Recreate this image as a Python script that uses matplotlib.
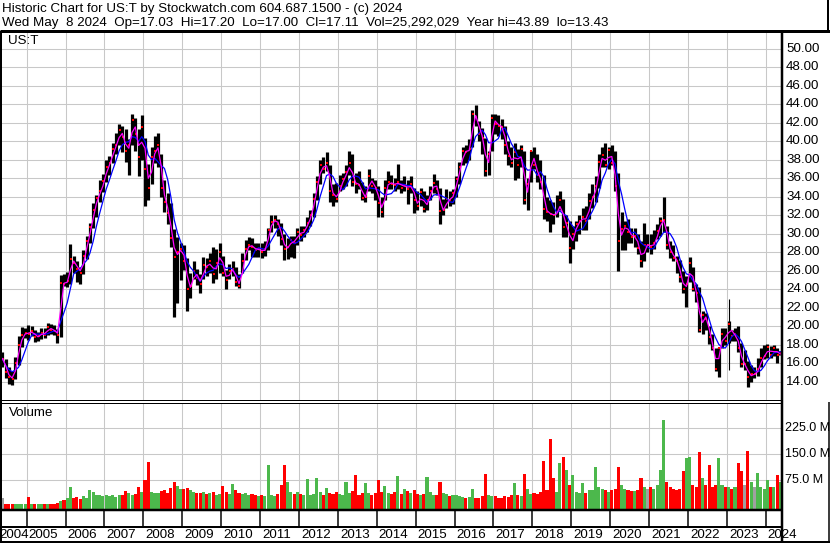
import matplotlib
matplotlib.use("Agg")
import matplotlib.pyplot as plt
from matplotlib.lines import Line2D
import numpy as np
import pandas as pd

# ---------------- data (monthly, May 2004 .. May 2024) ----------------
start_year, start_month = 2004, 5

high = [
    17.2, 16.5, 15.6, 15.2, 16.7, 18.9, 19.9, 19.8,                      # 2004 May-Dec
    20.1, 20.0, 19.6, 19.4, 19.8, 19.8, 20.4, 20.2, 20.1, 19.7, 25.5, 25.6,  # 2005
    25.9, 28.9, 27.6, 27.0, 26.4, 28.2, 29.8, 31.2, 33.3, 34.2, 35.8, 36.5,  # 2006
    38.0, 38.4, 39.8, 40.9, 41.9, 41.6, 41.3, 40.2, 43.0, 42.5, 41.3, 42.8,  # 2007
    40.4, 37.5, 39.4, 40.6, 40.9, 38.6, 35.8, 34.4, 33.3, 30.5, 29.7, 29.0,  # 2008
    28.8, 27.4, 25.8, 27.0, 26.2, 25.6, 27.5, 27.4, 27.9, 28.6, 28.4, 29.0,  # 2009
    27.6, 26.1, 26.7, 27.0, 26.4, 25.6, 27.9, 29.3, 29.7, 29.5, 29.0, 29.0,  # 2010
    29.0, 29.2, 30.6, 32.0, 32.0, 31.6, 31.2, 30.0, 29.5, 29.8, 29.8, 30.6,  # 2011
    30.8, 30.8, 31.8, 32.6, 34.4, 36.2, 38.0, 38.3, 38.8, 37.4, 35.4, 35.5,  # 2012
    36.4, 36.6, 37.4, 39.0, 38.6, 36.6, 36.8, 35.6, 35.2, 37.0, 36.0, 35.8,  # 2013
    35.2, 34.0, 35.8, 36.8, 36.4, 36.0, 37.5, 35.8, 36.2, 35.8, 36.2, 35.0,  # 2014
    34.6, 35.0, 34.6, 34.2, 35.2, 36.5, 35.8, 35.0, 33.8, 34.8, 34.6, 34.8,  # 2015
    36.2, 37.8, 39.4, 39.6, 40.2, 43.4, 43.9, 42.2, 41.4, 40.4, 39.0, 42.9,  # 2016
    43.0, 42.8, 42.4, 41.6, 40.0, 39.4, 39.8, 39.2, 39.6, 39.0, 36.0, 39.0,  # 2017
    39.4, 38.6, 38.0, 36.4, 34.0, 33.6, 33.4, 34.2, 34.6, 33.8, 32.0, 31.4,  # 2018
    30.8, 31.4, 32.0, 32.8, 33.0, 34.4, 35.4, 36.2, 38.6, 39.4, 39.8, 39.4,  # 2019
    39.6, 39.0, 36.6, 32.4, 31.4, 31.6, 30.6, 30.6, 30.0, 29.2, 31.2, 30.0,  # 2020
    30.0, 30.4, 31.0, 31.8, 34.0, 30.8, 29.2, 28.8, 27.6, 27.2, 26.0, 25.4,  # 2021
    27.5, 26.4, 24.6, 24.2, 21.6, 21.4, 20.0, 19.2, 17.6, 17.8, 19.8, 19.8,  # 2022
    20.6, 19.6, 19.8, 20.0, 18.2, 17.4, 16.2, 15.8, 15.6, 16.6, 17.6, 18.0,  # 2023
    18.1, 17.9, 18.0, 17.6, 17.3,                                        # 2024 Jan-May
]
low = [
    15.6, 14.4, 13.8, 13.6, 14.3, 15.8, 17.8, 18.7,
    18.5, 18.9, 18.3, 18.4, 18.6, 18.7, 19.0, 19.2, 19.1, 18.2, 18.8, 24.3,
    24.2, 24.6, 25.8, 24.8, 24.6, 25.6, 27.3, 29.0, 30.6, 31.8, 33.4, 34.5,
    35.6, 36.4, 37.6, 38.6, 39.6, 38.8, 37.8, 36.4, 39.6, 39.0, 36.2, 38.0,
    33.0, 33.6, 35.4, 37.6, 37.2, 34.0, 32.4, 31.0, 28.6, 21.0, 22.5, 25.0,
    26.1, 21.6, 23.0, 25.1, 24.5, 23.6, 25.1, 25.4, 25.8, 24.7, 25.1, 25.8,
    25.4, 24.0, 25.1, 25.4, 24.4, 24.1, 25.8, 27.2, 28.2, 27.5, 27.5, 27.5,
    27.4, 27.6, 28.2, 30.2, 30.6, 29.8, 28.8, 27.2, 27.3, 27.5, 27.4, 28.8,
    29.2, 29.6, 30.2, 30.8, 31.8, 33.6, 35.4, 36.6, 36.8, 33.4, 33.0, 33.4,
    34.6, 34.8, 35.2, 36.4, 35.2, 34.4, 34.8, 33.6, 33.4, 34.6, 34.4, 33.6,
    31.8, 31.8, 33.6, 34.8, 34.8, 34.6, 34.8, 34.4, 34.6, 33.2, 34.4, 32.2,
    32.6, 33.0, 32.4, 32.6, 33.6, 34.4, 34.2, 31.0, 32.0, 32.8, 33.0, 33.2,
    34.0, 35.4, 37.4, 37.6, 38.0, 39.4, 41.6, 40.0, 38.6, 36.2, 36.4, 39.0,
    40.8, 40.6, 40.2, 38.6, 37.4, 37.2, 35.8, 36.0, 37.2, 33.2, 32.6, 35.6,
    37.0, 35.6, 34.8, 31.6, 31.4, 30.2, 31.0, 31.8, 32.6, 29.6, 29.6, 26.8,
    28.4, 29.2, 30.0, 30.4, 30.4, 31.6, 32.8, 33.4, 35.0, 37.2, 37.2, 37.0,
    37.4, 34.6, 26.0, 28.2, 28.2, 29.0, 29.0, 28.6, 27.8, 26.4, 27.0, 28.0,
    27.8, 28.4, 29.4, 29.8, 30.2, 28.4, 27.4, 27.0, 25.8, 24.8, 23.6, 22.1,
    24.8, 23.8, 22.6, 19.4, 19.2, 19.6, 18.1, 17.4, 15.2, 14.5, 17.6, 18.0,
    18.2, 18.4, 18.4, 17.2, 15.6, 15.3, 13.4, 14.0, 14.4, 14.6, 15.6, 16.4,
    16.6, 16.6, 16.8, 16.0, 16.9,
]
close = [
    16.5, 15.0, 14.5, 14.3, 16.0, 18.0, 19.0, 19.3,
    19.2, 19.5, 18.8, 18.9, 19.3, 19.1, 19.9, 19.6, 19.5, 19.0, 24.7, 24.6,
    24.9, 27.3, 26.8, 26.2, 25.8, 27.6, 29.2, 30.7, 32.6, 33.9, 34.6, 35.7,
    37.2, 37.6, 39.2, 39.6, 41.2, 40.5, 38.9, 39.6, 42.3, 40.8, 38.3, 41.5,
    37.0, 35.0, 38.3, 39.0, 39.6, 35.0, 33.4, 32.2, 29.5, 27.5, 28.0, 28.4,
    27.0, 24.0, 24.4, 26.0, 25.2, 24.6, 26.6, 26.4, 27.0, 25.6, 26.8, 28.0,
    25.8, 25.0, 26.0, 26.2, 24.8, 24.4, 27.0, 28.4, 28.8, 28.6, 28.2, 28.4,
    28.0, 28.4, 30.4, 31.3, 31.5, 31.0, 29.4, 28.3, 28.6, 29.3, 29.0, 30.2,
    29.9, 30.4, 31.2, 32.0, 33.8, 35.6, 37.4, 37.0, 37.7, 34.6, 34.2, 33.8,
    35.2, 35.9, 36.7, 37.6, 35.6, 35.4, 35.3, 33.9, 34.0, 36.2, 35.2, 35.0,
    33.3, 32.4, 35.0, 35.6, 35.4, 35.3, 35.6, 35.0, 35.3, 34.8, 35.4, 33.6,
    33.0, 34.5, 32.7, 33.6, 34.6, 35.5, 34.8, 32.5, 32.6, 33.8, 33.6, 34.4,
    35.9, 37.2, 39.0, 38.8, 39.2, 43.0, 42.6, 40.8, 40.4, 36.8, 38.6, 42.5,
    41.9, 41.7, 41.5, 39.6, 38.4, 37.6, 38.8, 37.4, 39.2, 33.6, 35.4, 38.9,
    37.4, 36.3, 35.6, 32.7, 32.3, 32.1, 32.0, 32.3, 33.6, 30.7, 31.2, 28.5,
    30.0, 31.0, 31.4, 31.8, 31.4, 33.5, 34.0, 35.2, 37.8, 38.5, 37.4, 39.1,
    37.6, 35.2, 29.2, 30.5, 30.8, 30.2, 29.6, 29.8, 28.5, 27.0, 28.8, 28.8,
    28.6, 29.0, 30.3, 31.4, 31.5, 28.8, 28.0, 27.4, 27.0, 25.3, 24.0, 24.6,
    26.8, 24.0, 23.6, 19.6, 21.2, 20.8, 18.8, 17.6, 15.4, 17.6, 19.2, 18.4,
    20.2, 18.9, 19.2, 17.6, 15.9, 15.9, 14.5, 14.8, 14.8, 15.4, 16.6, 16.8,
    17.7, 16.9, 17.6, 16.9, 17.1,
]
volume_m = [
    22, 6, 5, 5, 5, 6, 5, 5,
    26, 6, 5, 6, 6, 5, 6, 5, 6, 8, 14, 16,
    24, 55, 22, 25, 20, 28, 22, 45, 40, 30, 32, 28,
    30, 28, 32, 26, 30, 30, 44, 38, 30, 34, 56, 40,
    75, 128, 40, 38, 36, 42, 45, 38, 52, 70, 58, 50,
    50, 52, 46, 40, 38, 36, 40, 34, 38, 40, 32, 35,
    58, 40, 34, 62, 45, 38, 34, 36, 32, 34, 30, 28,
    30, 28, 118, 30, 28, 35, 60, 120, 70, 40, 35, 40,
    35, 30, 77, 32, 35, 82, 40, 30, 52, 38, 34, 40,
    34, 32, 70, 36, 42, 90, 32, 36, 65, 38, 32, 36,
    75, 40, 58, 38, 34, 40, 88, 34, 50, 42, 38, 45,
    35, 30, 34, 85, 40, 32, 30, 70, 36, 34, 28, 32,
    30, 28, 26, 24, 26, 50, 24, 22, 28, 92, 30, 28,
    28, 24, 22, 28, 26, 30, 65, 30, 28, 92, 50, 34,
    38, 34, 40, 130, 45, 195, 82, 40, 125, 142, 104, 60,
    90, 40, 36, 65, 38, 46, 45, 112, 55, 50, 45, 40,
    45, 50, 114, 60, 50, 46, 42, 44, 46, 82, 55, 50,
    55, 50, 60, 104, 250, 68, 55, 50, 46, 50, 100, 138,
    142, 60, 55, 157, 80, 60, 118, 55, 60, 140, 60, 55,
    55, 50, 55, 125, 102, 60, 158, 70, 55, 95, 55, 50,
    75, 55, 55, 90, 70,
]
# one stray print (Jan 2023)
spike_date = [2023.06]
spike_hi = [22.9]
spike_lo = [15.3]

years = list(range(2005, 2025))
price_ticks = list(range(14, 52, 2))
vol_ticks = [75, 150, 225]

title1 = "Historic Chart for US:T by Stockwatch.com 604.687.1500 - (c) 2024"
title2 = ("Wed May  8 2024  Op=17.03  Hi=17.20  Lo=17.00  Cl=17.11  "
          "Vol=25,292,029  Year hi=43.89  lo=13.43")

# ---------------- figure ----------------
W, H = 830, 543
fig = plt.figure(figsize=(W / 100, H / 100), dpi=100)
fig.patch.set_facecolor("white")
FONT = "Liberation Sans"
FS = 9.6

def fx(x):
    return x / W

def fy(y):
    return 1 - y / H

def pline(xs, ys, lw=1.0, color="black"):
    fig.add_artist(Line2D([fx(x) for x in xs], [fy(y) for y in ys],
                          lw=lw * 0.72, color=color, solid_capstyle="butt"))

n = len(close)
t = np.array([start_year + (start_month - 1 + i + 0.5) / 12 for i in range(n)])
XL = (2004.365, 2024.404)
grid_c = "#c8c8c8"

# price panel
ax = fig.add_axes([fx(2), fy(400), fx(781.5) - fx(2), fy(33) - fy(400)])
ax.set_xlim(*XL)
ax.set_ylim(12.02, 51.71)
ax.axis("off")
for p in price_ticks:
    ax.axhline(p, color=grid_c, lw=0.75, zorder=0)
for yv in years:
    ax.axvline(yv, color=grid_c, lw=0.75, zorder=0)

cs = pd.Series(close)
ma_fast = cs.rolling(2, min_periods=1).mean()
ma_slow = cs.rolling(5, min_periods=1).mean()
ax.vlines(t, low, high, color="black", lw=2.3, zorder=2)
ax.vlines(spike_date, spike_lo, spike_hi, color="black", lw=0.8, zorder=2)
ax.plot(t + 0.012, close, ls="none", marker="s", ms=1.6, mew=0,
        color="red", zorder=3)
ax.plot(t, ma_slow, color="#0000ff", lw=0.9, zorder=4)
ax.plot(t, ma_fast, color="#ff00ff", lw=0.9, zorder=5)

# volume panel
vx = fig.add_axes([fx(2), fy(509), fx(781.5) - fx(2), fy(403) - fy(509)])
vx.set_xlim(*XL)
VB = -9.3
vx.set_ylim(VB, 298.8)
vx.axis("off")
for v in vol_ticks:
    vx.axhline(v, color=grid_c, lw=0.75, zorder=0)
for yv in years:
    vx.axvline(yv, color=grid_c, lw=0.75, zorder=0)
prev = [close[0]] + close[:-1]
vcol = ["#4cb84c" if c > p else ("#ff0000" if c < p else "#a0a0a0")
        for c, p in zip(close, prev)]
vx.bar(t, np.array(volume_m) - VB, bottom=VB, width=1 / 12 * 0.95,
       color=vcol, zorder=2, linewidth=0)

# ---------------- texts ----------------
fig.text(fx(2), fy(9), title1, fontsize=FS, family=FONT, va="center", ha="left")
fig.text(fx(2), fy(23), title2, fontsize=FS, family=FONT, va="center", ha="left")
fig.text(fx(8), fy(41), "US:T", fontsize=FS, family=FONT, va="center", ha="left")
fig.text(fx(9), fy(413), "Volume", fontsize=FS, family=FONT, va="center", ha="left")

def px_of_year(yr):
    return 2 + (yr - XL[0]) / (XL[1] - XL[0]) * 779.5

def py_of_price(p):
    return 400 - (p - 12.02) / (51.71 - 12.02) * 367

def py_of_vol(v):
    return 509 - (v - VB) / (298.8 - VB) * 106

for p in price_ticks:
    fig.text(fx(786), fy(py_of_price(p)), f"{p:.2f}", fontsize=FS, family=FONT,
             va="center", ha="left")
for v in vol_ticks:
    fig.text(fx(785), fy(py_of_vol(v)), f"{v:.1f} M", fontsize=9.0, family=FONT,
             va="center", ha="left")

fig.text(fx(-1), fy(535), "2004", fontsize=FS, family=FONT, va="center", ha="left")
for yv in years:
    fig.text(fx(px_of_year(yv) + 2), fy(535), str(yv), fontsize=FS, family=FONT,
             va="center", ha="left")

# ---------------- frame lines ----------------
pline([0, 830], [31, 31], lw=3)
pline([828, 828], [0, 31], lw=2)
pline([829, 829], [402, 543], lw=1.5)
pline([781.5, 781.5], [31, 543], lw=2.5)
pline([1, 1], [31, 543], lw=2)
pline([0, 781.5], [400, 400], lw=1)
pline([0, 781.5], [402.5, 402.5], lw=1)
pline([0, 781.5], [510, 510], lw=2.5)
pline([0, 781.5], [527, 527], lw=2)
pline([0, 830], [542, 542], lw=2)
for yv in years:
    x = px_of_year(yv)
    pline([x, x], [510, 527], lw=1.5)

fig.savefig("out.png", dpi=100)
